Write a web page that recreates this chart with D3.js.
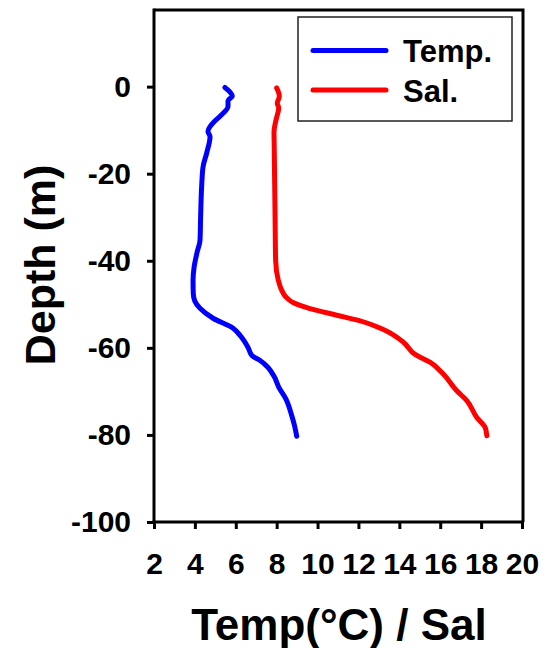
<!DOCTYPE html>
<html>
<head>
<meta charset="utf-8">
<script src="https://cdn.jsdelivr.net/npm/d3@7"></script>
<style>
  body { margin: 0; background: #fff; }
  text { font-family: "Liberation Sans", Arial, sans-serif; font-weight: bold; }
</style>
</head>
<body>
<svg id="chart"></svg>
<script>
// profile values
const tempDepth = [-0.2, -2.2, -3.2, -4.5, -6.8, -8.3, -10.3, -11.5, -15.2, -18.4, -23, -30, -35.3, -38.2, -41.5, -44.5, -47.5, -49.3, -50.9, -53.2, -55.5, -57.1, -59.9, -61.8, -62.9, -64.5, -66.6, -69, -71.7, -75.6, -78, -80.3];
const tempVal   = [5.47, 5.83, 5.62, 5.62, 5.23, 4.89, 4.64, 4.74, 4.58, 4.4, 4.33, 4.28, 4.25, 4.1, 3.96, 3.91, 3.92, 4.0, 4.25, 4.89, 5.87, 6.2, 6.6, 6.8, 7.19, 7.58, 7.88, 8.1, 8.45, 8.74, 8.88, 8.98];
const salDepth  = [-0.3, -2.2, -3.8, -4.9, -7.6, -10.3, -13.8, -29, -39.9, -44.5, -46.5, -48.3, -49.6, -51, -52.5, -53.8, -55.8, -58.7, -61.5, -63.3, -66, -69.8, -72.1, -76, -78.3, -80.2];
const salVal    = [8.0, 8.13, 8.03, 8.1, 7.97, 7.87, 7.88, 7.92, 7.95, 8.08, 8.22, 8.45, 8.8, 9.63, 10.94, 12.08, 13.22, 14.2, 14.77, 15.5, 16.15, 16.8, 17.3, 17.79, 18.2, 18.28];
const xTicks = [2, 4, 6, 8, 10, 12, 14, 16, 18, 20];
const yTicks = [0, -20, -40, -60, -80, -100];
const seriesNames = ["Temp.", "Sal."];
const seriesColors = ["#0000ff", "#ff0000"];

const width = 545, height = 648;
const m = { left: 154, right: 522, top: 10, bottom: 522 };

const svg = d3.select("#chart")
    .attr("width", width)
    .attr("height", height);

const x = d3.scaleLinear().domain([2, 20]).range([m.left, m.right]);
const y = d3.scaleLinear().domain([-100, 17.6]).range([m.bottom, m.top]);

// frame (top and right sides)
svg.append("path")
    .attr("d", `M${m.left},${m.top}H${m.right + 1}V${m.bottom}`)
    .attr("fill", "none")
    .attr("stroke", "black")
    .attr("stroke-width", 3);

const xAxis = svg.append("g")
    .attr("transform", `translate(0, ${m.bottom})`)
    .call(d3.axisBottom(x).tickValues(xTicks).tickFormat(d => String(d))
        .tickSize(7).tickPadding(24).tickSizeOuter(0));

const yAxis = svg.append("g")
    .attr("transform", `translate(${m.left}, 0)`)
    .call(d3.axisLeft(y).tickValues(yTicks).tickFormat(d => String(d))
        .tickSize(7).tickPadding(16).tickSizeOuter(0));

[xAxis, yAxis].forEach(a => {
    a.select(".domain").attr("stroke-width", 3);
    a.selectAll(".tick line").attr("stroke-width", 3);
    a.selectAll(".tick text")
        .style("font-size", "30px")
        .attr("fill", "black");
});
yAxis.select(".domain").attr("d", `M0,${m.bottom}V${m.top - 1.5}`);
xAxis.select(".domain").attr("d", `M${m.left - 1.5},0H${m.right + 1}`);

// axis titles
svg.append("text")
    .attr("x", 339)
    .attr("y", 640)
    .attr("text-anchor", "middle")
    .style("font-size", "44px")
    .text("Temp(°C) / Sal");

svg.append("text")
    .attr("transform", "translate(55, 265) rotate(-90)")
    .attr("text-anchor", "middle")
    .style("font-size", "43px")
    .text("Depth (m)");

// profiles
const line = d3.line()
    .curve(d3.curveMonotoneY)
    .x(d => x(d[1]))
    .y(d => y(d[0]));

const profiles = [
    d3.zip(tempDepth, tempVal),
    d3.zip(salDepth, salVal)
];

svg.append("g")
    .selectAll("path")
    .data(profiles)
    .join("path")
    .attr("d", line)
    .attr("fill", "none")
    .attr("stroke", (d, i) => seriesColors[i])
    .attr("stroke-width", 5)
    .attr("stroke-linecap", "round")
    .attr("stroke-linejoin", "round");

// legend
const legend = svg.append("g");
legend.append("rect")
    .attr("x", 298)
    .attr("y", 17)
    .attr("width", 214)
    .attr("height", 104)
    .attr("fill", "white")
    .attr("stroke", "#222")
    .attr("stroke-width", 1.5);

const items = legend.selectAll("g.item")
    .data(seriesNames)
    .join("g")
    .attr("class", "item")
    .attr("transform", (d, i) => `translate(0, ${50.5 + i * 39.5})`);

items.append("line")
    .attr("x1", 313)
    .attr("x2", 386)
    .attr("stroke", (d, i) => seriesColors[i])
    .attr("stroke-width", 5)
    .attr("stroke-linecap", "round");

items.append("text")
    .attr("x", 403)
    .attr("y", 11.5)
    .style("font-size", "31px")
    .text(d => d);
</script>
</body>
</html>
